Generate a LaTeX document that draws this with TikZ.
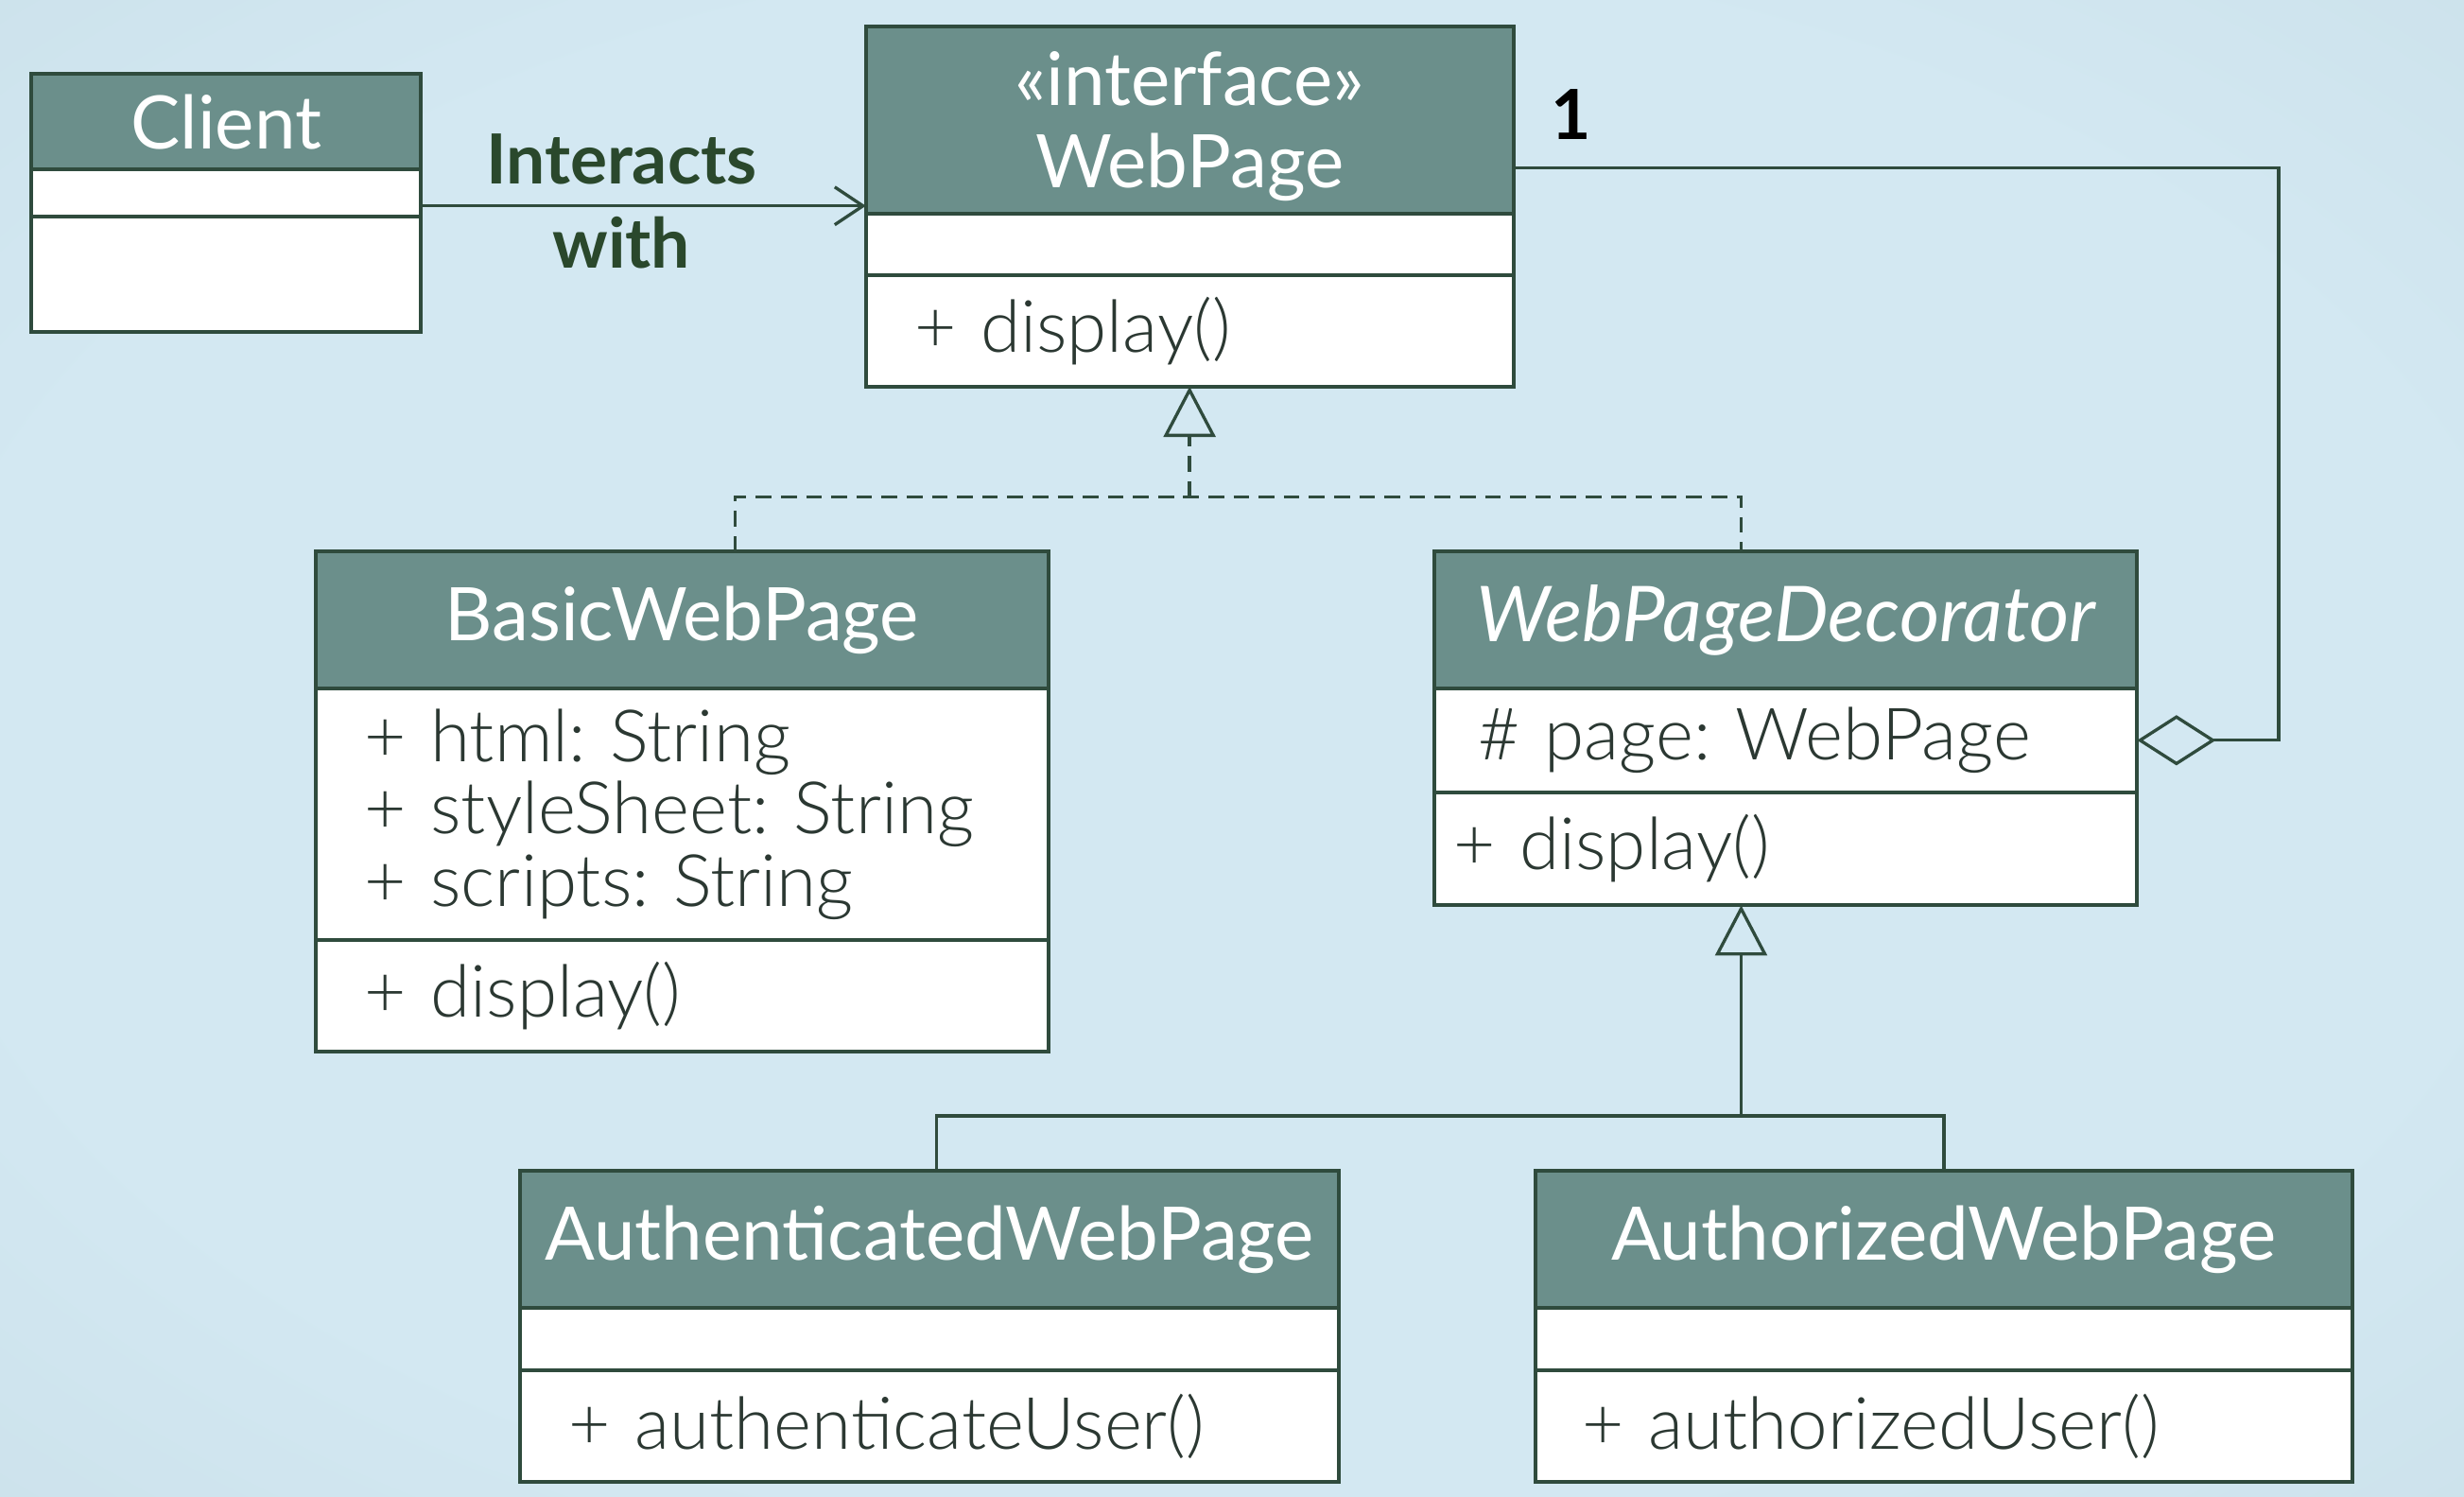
\documentclass[tikz,border=0pt]{standalone}
\usepackage{fontspec}
\setmainfont{Lato}
\newfontfamily\umllight{Lato Light}
\usepackage{tikz}
\usetikzlibrary{arrows.meta,positioning,shapes}
\usepackage{xcolor}

\definecolor{umlhead}{HTML}{6B8F8B}
\definecolor{umlline}{HTML}{2F4B3D}
\definecolor{umltext}{HTML}{2B3832}
\definecolor{labeltext}{HTML}{2A482C}
\definecolor{bgmid}{HTML}{D3E8F2}
\definecolor{bgmid2}{HTML}{C4DAE3}
\definecolor{bgedge}{HTML}{B3C9D1}
\pgfdeclareradialshading{bgglow}{\pgfpoint{0bp}{0bp}}{color(0bp)=(bgmid); color(26bp)=(bgmid); color(50bp)=(bgmid2); color(71bp)=(bgedge)}

\newcommand{\umlheadfont}{\fontsize{23.5}{26}\selectfont}
\newcommand{\umlbodyfont}{\umllight\fontsize{23}{23}\selectfont\frenchspacing}
\newcommand{\umllabelfont}{\fontsize{22}{27}\selectfont\bfseries}

\begin{document}
\begin{tikzpicture}[x=0.5pt,y=-0.5pt,
  headbox/.style={draw=umlline,fill=umlhead,text=white,line width=1.2pt,inner sep=0pt,outer sep=0pt,align=center,anchor=north west,font=\umlheadfont},
  bodybox/.style={draw=umlline,fill=white,text=umltext,line width=1.2pt,inner xsep=15.5pt,inner ysep=0pt,outer sep=0pt,align=left,anchor=north west,font=\umlbodyfont},
  assocline/.style={draw=umlline,line width=1pt,-{Straight Barb[length=9pt,width=12pt]}},
  realizeline/.style={draw=umlline,line width=1pt,dash pattern=on 5pt off 3pt},
  inheritline/.style={draw=umlline,line width=1pt},
  hollowtri/.style={-{Triangle[open,length=16pt,width=16.5pt]}}]
% Background
\shade[shading=bgglow] (0,0) rectangle (1568,952);
\useasboundingbox (0,0) rectangle (1568,952);
% Class: Client
\node[headbox,minimum width=124pt,minimum height=30.5pt] (client-head) at (20,47) {Client};
\node[bodybox,text width=93pt,minimum height=15pt] (client-attr) at (client-head.south west) {};
\node[bodybox,text width=93pt,minimum height=36.5pt] (client-ops) at (client-attr.south west) {};
% Class: WebPage (interface)
\node[headbox,minimum width=206pt,minimum height=59.5pt] (webpage-head) at (551,17) {\rule{0pt}{21pt}«interface»\\WebPage};
\node[bodybox,text width=175pt,minimum height=19.5pt] (webpage-attr) at (webpage-head.south west) {};
\node[bodybox,text width=175pt,minimum height=35.5pt] (webpage-ops) at (webpage-attr.south west) {+ display()};
% Class: BasicWebPage
\node[headbox,minimum width=233pt,minimum height=43.5pt] (basic-head) at (201,351) {BasicWebPage};
\node[bodybox,text width=202pt,minimum height=80pt] (basic-attr) at (basic-head.south west) {+ html: String\\+ styleSheet: String\\+ scripts: String};
\node[bodybox,text width=202pt,minimum height=35.5pt] (basic-ops) at (basic-attr.south west) {+ display()};
% Class: WebPageDecorator (abstract)
\node[headbox,minimum width=223.5pt,minimum height=43.5pt,font=\fontsize{24.5}{26}\selectfont\itshape] (deco-head) at (913,351) {WebPageDecorator};
\node[bodybox,inner xsep=14pt,text width=195.5pt,minimum height=33pt] (deco-attr) at (deco-head.south west) {\# page: WebPage};
\node[bodybox,inner xsep=6pt,text width=211.5pt,minimum height=36pt] (deco-ops) at (deco-attr.south west) {+ display()};
% Class: AuthenticatedWebPage
\node[headbox,minimum width=260.5pt,minimum height=43.5pt] (authn-head) at (331,745) {AuthenticatedWebPage};
\node[bodybox,text width=229.5pt,minimum height=20pt] (authn-attr) at (authn-head.south west) {};
\node[bodybox,text width=229.5pt,minimum height=35.5pt] (authn-ops) at (authn-attr.south west) {+ authenticateUser()};
% Class: AuthorizedWebPage
\node[headbox,minimum width=260pt,minimum height=43.5pt] (authz-head) at (977,745) {AuthorizedWebPage};
\node[bodybox,inner xsep=15pt,text width=230pt,minimum height=20pt] (authz-attr) at (authz-head.south west) {};
\node[bodybox,inner xsep=15pt,text width=230pt,minimum height=35.5pt] (authz-ops) at (authz-attr.south west) {+ authorizedUser()};
% Client -> WebPage
\coordinate (client-out) at ([yshift=3.5pt]client-attr.south east);
\draw[assocline] (client-out) -- (client-out -| webpage-head.west)
  node[midway,xshift=-7pt,yshift=1.5pt,align=center,text=labeltext,font=\umllabelfont] (interacts) {Interacts\\with};
% Realization of WebPage
\coordinate (real-bus) at ([yshift=-35pt]webpage-ops.south);
\draw[realizeline] ([xshift=17pt]basic-head.north) |- (real-bus) -| ([xshift=-14.25pt]deco-head.north);
\draw[realizeline,hollowtri] (real-bus) -- (webpage-ops.south);
% Inheritance from WebPageDecorator
\coordinate (inh-bus) at ([xshift=-14.25pt,yshift=-67pt]deco-ops.south);
\draw[inheritline] ([xshift=2.25pt]authn-head.north) |- (inh-bus) -| (authz-head.north);
\draw[inheritline,hollowtri] (inh-bus) -- (inh-bus |- deco-ops.south);
% Aggregation: decorator holds one WebPage
\coordinate (wp-out) at ([yshift=14.5pt]webpage-head.south east);
\draw[inheritline,{Diamond[open,length=25pt,width=16pt]}-] (deco-attr.east) -- ++(90,0) |- (wp-out);
\node[font=\umllabelfont,text=black] (mult-one) at ([shift={(18.5pt,17pt)}]wp-out) {1};
\end{tikzpicture}
\end{document}
